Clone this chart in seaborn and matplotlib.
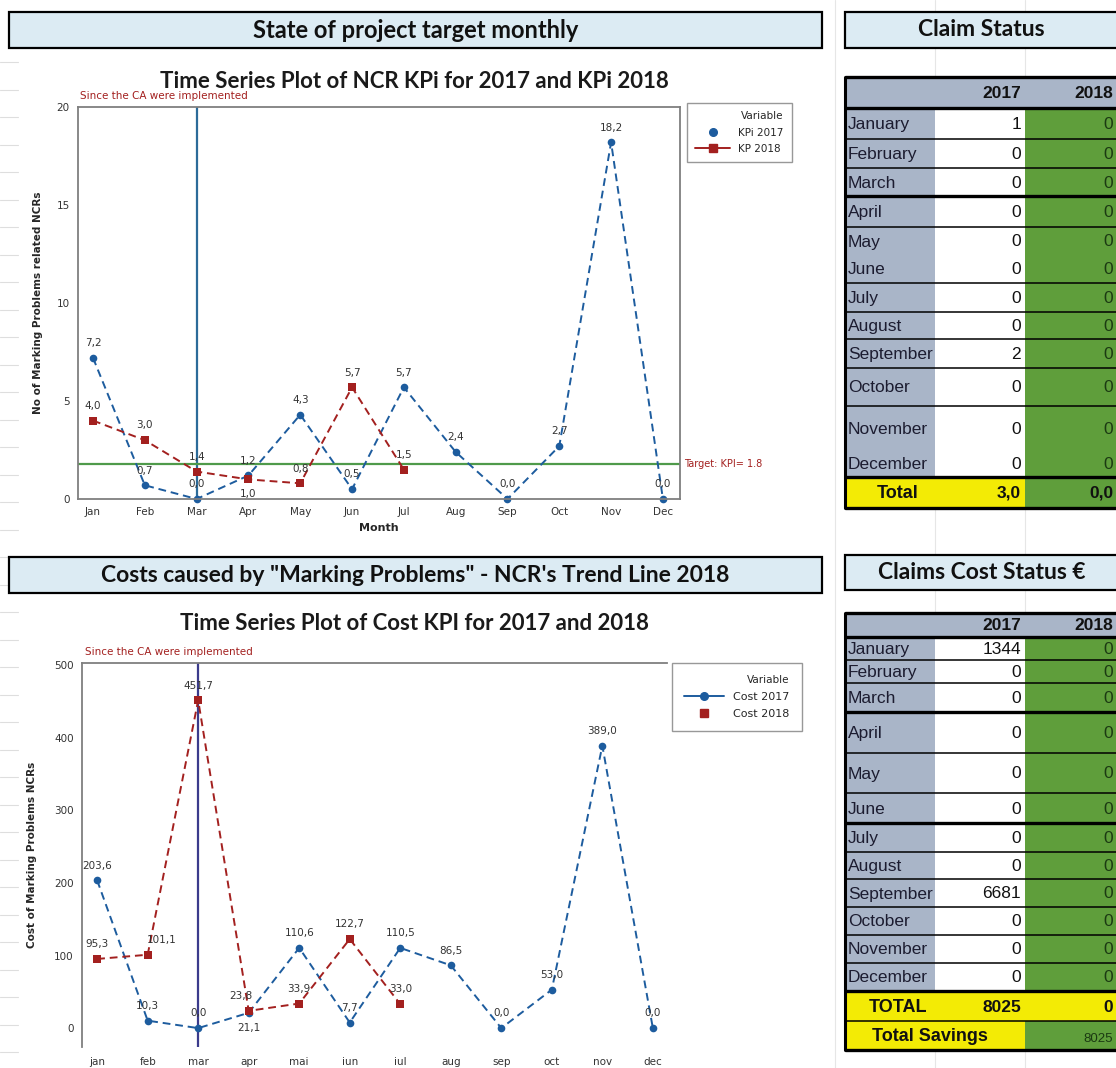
import numpy as np
import pandas as pd
import matplotlib
matplotlib.use("Agg")
import matplotlib.pyplot as plt
import matplotlib.transforms as mtrans
import seaborn as sns
from matplotlib.lines import Line2D
from matplotlib.patches import Rectangle

# ---------------- data ----------------
months_kpi = ["Jan", "Feb", "Mar", "Apr", "May", "Jun", "Jul", "Aug", "Sep", "Oct", "Nov", "Dec"]
months_cost = ["jan", "feb", "mar", "apr", "mai", "iun", "iul", "aug", "sep", "oct", "nov", "dec"]
kpi_2017 = [7.2, 0.7, 0.0, 1.2, 4.3, 0.5, 5.7, 2.4, 0.0, 2.7, 18.2, 0.0]
kpi_2018 = [4.0, 3.0, 1.4, 1.0, 0.8, 5.7, 1.5]
kpi_target = 1.8
cost_2017 = [203.6, 10.3, 0.0, 21.1, 110.6, 7.7, 110.5, 86.5, 0.0, 53.0, 389.0, 0.0]
cost_2018 = [95.3, 101.1, 451.7, 23.8, 33.9, 122.7, 33.0]
kpi_yticks = [0, 5, 10, 15, 20]
cost_yticks = [0, 100, 200, 300, 400, 500]

table_months = ["January", "February", "March", "April", "May", "June", "July",
                "August", "September", "October", "November", "December"]
claims_2017 = [1, 0, 0, 0, 0, 0, 0, 0, 2, 0, 0, 0]
claims_2018 = [0, 0, 0, 0, 0, 0, 0, 0, 0, 0, 0, 0]
claims_total = ["3,0", "0,0"]
claimcost_2017 = [1344, 0, 0, 0, 0, 0, 0, 0, 6681, 0, 0, 0]
claimcost_2018 = [0, 0, 0, 0, 0, 0, 0, 0, 0, 0, 0, 0]
claimcost_total = ["8025", "0"]
claimcost_savings = "8025"

# ---------------- style ----------------
sns.set_style("white")
plt.rcParams["font.family"] = ["DejaVu Sans"]

W, H = 1116, 1068
fig = plt.figure(figsize=(W / 100, H / 100), dpi=100)
fig.patch.set_facecolor("white")

BLUE = "#1d5c9e"
RED = "#a3201f"
GRAY = "#7f7f7f"
HDR_FILL = "#dcebf3"
TBL_BLUE = "#a9b5c8"
TBL_GREEN = "#5f9e3b"
TBL_YELLOW = "#f3eb05"
HEAD_FONT = ["Lato", "DejaVu Sans"]
TBL_FONT = ["Liberation Sans", "DejaVu Sans"]


def px(x0, y0, x1, y1):
    return [x0 / W, 1 - y1 / H, (x1 - x0) / W, (y1 - y0) / H]


# background axes in pixel units (layout only)
bg = fig.add_axes([0, 0, 1, 1])
bg.set_xlim(0, W)
bg.set_ylim(H, 0)
bg.axis("off")

# faint spreadsheet grid
for xg in [835, 935, 1025]:
    bg.plot([xg, xg], [0, H], color="#e6e6e6", lw=0.8, zorder=0)
for yg in np.arange(62, 1060, 27.5):
    bg.plot([0, 18], [yg, yg], color="#dedede", lw=0.8, zorder=0)


def header_box(x0, y0, x1, y1, text, size):
    bg.add_patch(Rectangle((x0, y0), x1 - x0, y1 - y0, facecolor=HDR_FILL,
                           edgecolor="black", lw=1.6, zorder=2))
    bg.text((x0 + x1) / 2, (y0 + y1) / 2, text, ha="center", va="center",
            fontsize=size, fontweight="bold", family=HEAD_FONT, color="#111111", zorder=3)


header_box(9, 12, 822, 48, "State of project target monthly", 17)
header_box(845, 12, 1118, 48, "Claim Status", 16.5)
header_box(9, 557, 822, 593, "Costs caused by \"Marking Problems\" - NCR's Trend Line 2018", 16.5)
header_box(845, 555, 1118, 590, "Claims Cost Status €", 16.5)


def fmt(v):
    return f"{v:.1f}".replace(".", ",")


def style_axes(ax, spines_visible):
    for name, sp in ax.spines.items():
        sp.set_visible(name in spines_visible)
        sp.set_color(GRAY)
        sp.set_linewidth(1.3)
    ax.tick_params(axis="both", direction="out", length=3, width=0.8, color=GRAY,
                   labelsize=7.5, labelcolor="#333333", pad=3)
    ax.set_facecolor("white")


# ---------------- chart 1: KPI ----------------
ax1 = fig.add_axes(px(78, 107, 680, 499))
df1 = pd.DataFrame({
    "month": list(range(len(kpi_2017))) + list(range(len(kpi_2018))),
    "value": kpi_2017 + kpi_2018,
    "Variable": ["KPi 2017"] * len(kpi_2017) + ["KP 2018"] * len(kpi_2018),
})
sns.lineplot(data=df1, x="month", y="value", hue="Variable", style="Variable",
             palette={"KPi 2017": BLUE, "KP 2018": RED},
             markers={"KPi 2017": "o", "KP 2018": "s"},
             dashes={"KPi 2017": (4, 2.5), "KP 2018": (4, 2.5)},
             estimator=None, sort=False, legend=False, ax=ax1,
             linewidth=1.4, markersize=5.5, markeredgewidth=0)
for ln in ax1.lines:
    ln.set_clip_on(False)
ax1.set_xlim(-0.29, 11.33)
ax1.set_ylim(0, 20)
ax1.set_xticks(range(12))
ax1.set_xticklabels(months_kpi)
ax1.set_yticks(kpi_yticks)
style_axes(ax1, ["left", "bottom", "top", "right"])
ax1.set_xlabel("Month", fontsize=8, fontweight="bold", labelpad=4)
ax1.set_ylabel("No of Marking Problems related NCRs", fontsize=7.5, fontweight="bold", labelpad=10)
ax1.axvline(2, color="#2c6b99", lw=1.6, zorder=1)
ax1.axhline(kpi_target, color="#4f9a4a", lw=1.6, zorder=1)
tr = mtrans.blended_transform_factory(ax1.transAxes, ax1.transData)
ax1.text(1.006, kpi_target, f"Target: KPI= {kpi_target:.1f}", transform=tr, color=RED,
         fontsize=7, va="center", ha="left", clip_on=False)
for i, v in enumerate(kpi_2017):
    ax1.annotate(fmt(v), (i, v), xytext=(0, 7), textcoords="offset points",
                 ha="center", va="bottom", fontsize=7.5, color="#333333")
for i, v in enumerate(kpi_2018):
    below = (i == 3)
    ax1.annotate(fmt(v), (i, v), xytext=(0, -7 if below else 7), textcoords="offset points",
                 ha="center", va="top" if below else "bottom", fontsize=7.5, color="#333333")
fig.text(414 / W, 1 - 82 / H, "Time Series Plot of NCR KPi for 2017 and KPi 2018",
         ha="center", va="center", fontsize=16, fontweight="bold", family=HEAD_FONT,
         color="#1a1a1a")
fig.text(80 / W, 1 - 96 / H, "Since the CA were implemented", ha="left", va="center",
         fontsize=7.5, color=RED)
h1 = [Line2D([], [], color=BLUE, marker="o", linestyle="none", markersize=5.5),
      Line2D([], [], color=RED, marker="s", lw=1.4, markersize=5.5)]
leg1 = ax1.legend(h1, ["KPi 2017", "KP 2018"], title="Variable", loc="upper left",
                  bbox_to_anchor=(687 / W, 1 - 103 / H), bbox_transform=fig.transFigure,
                  frameon=True, fancybox=False, edgecolor=GRAY, fontsize=7.5, title_fontsize=7.5,
                  handlelength=3.3, borderaxespad=0, borderpad=0.8, labelspacing=0.6,
                  alignment="right")
leg1.get_frame().set_linewidth(1.0)

# ---------------- chart 2: Cost ----------------
ax2 = fig.add_axes(px(82, 663, 667, 1047))
df2 = pd.DataFrame({
    "month": list(range(len(cost_2017))) + list(range(len(cost_2018))),
    "value": cost_2017 + cost_2018,
    "Variable": ["Cost 2017"] * len(cost_2017) + ["Cost 2018"] * len(cost_2018),
})
sns.lineplot(data=df2, x="month", y="value", hue="Variable", style="Variable",
             palette={"Cost 2017": BLUE, "Cost 2018": RED},
             markers={"Cost 2017": "o", "Cost 2018": "s"},
             dashes={"Cost 2017": (4, 2.5), "Cost 2018": (4, 2.5)},
             estimator=None, sort=False, legend=False, ax=ax2,
             linewidth=1.4, markersize=5.5, markeredgewidth=0)
for ln in ax2.lines:
    ln.set_clip_on(False)
ax2.set_xlim(-0.30, 11.28)
ax2.set_ylim(-26, 503)
ax2.set_xticks(range(12))
ax2.set_xticklabels(months_cost)
ax2.set_yticks(cost_yticks)
style_axes(ax2, ["left", "top"])
ax2.tick_params(axis="x", length=4)
ax2.set_xlabel("")
ax2.set_ylabel("Cost of Marking Problems NCRs", fontsize=7.5, fontweight="bold", labelpad=12)
ax2.axvline(2, color="#3b3b8c", lw=1.6, zorder=1)
for i, v in enumerate(cost_2017):
    below = (i == 3)
    ax2.annotate(fmt(v), (i, v), xytext=(0, -7 if below else 7), textcoords="offset points",
                 ha="center", va="top" if below else "bottom", fontsize=7.5, color="#333333")
for i, v in enumerate(cost_2018):
    dx = 10 if i == 1 else (-6 if i == 3 else 0)
    ax2.annotate(fmt(v), (i, v), xytext=(dx, 7), textcoords="offset points",
                 ha="center", va="bottom", fontsize=7.5, color="#333333")
fig.text(415 / W, 1 - 624 / H, "Time Series Plot of Cost KPI for 2017 and 2018",
         ha="center", va="center", fontsize=16, fontweight="bold", family=HEAD_FONT,
         color="#1a1a1a")
fig.text(85 / W, 1 - 652 / H, "Since the CA were implemented", ha="left", va="center",
         fontsize=7.5, color=RED)
h2 = [Line2D([], [], color=BLUE, marker="o", lw=1.4, markersize=5.5),
      Line2D([], [], color=RED, marker="s", linestyle="none", markersize=5.5)]
leg2 = ax2.legend(h2, ["Cost 2017", "Cost 2018"], title="Variable", loc="upper left",
                  bbox_to_anchor=(672 / W, 1 - 663 / H), bbox_transform=fig.transFigure,
                  frameon=True, fancybox=False, edgecolor=GRAY, fontsize=8, title_fontsize=7.5,
                  handlelength=3.6, borderaxespad=0, borderpad=1.1, labelspacing=0.6,
                  alignment="right")
leg2.get_frame().set_linewidth(1.0)


# ---------------- tables ----------------
def draw_table(xc, yb, months, v17, v18, thick, noline, total_label, total_vals,
               total_all_yellow, savings=None):
    n = len(yb) - 1
    fs = 12.5
    for r in range(n):
        y0, y1 = yb[r], yb[r + 1]
        hgt = y1 - y0
        if r == 0:
            fills = [TBL_BLUE, TBL_BLUE, TBL_BLUE]
        elif r <= len(months):
            fills = [TBL_BLUE, "white", TBL_GREEN]
        elif r == len(months) + 1:
            fills = [TBL_YELLOW, TBL_YELLOW, TBL_YELLOW if total_all_yellow else TBL_GREEN]
        else:
            fills = [TBL_YELLOW, TBL_YELLOW, TBL_GREEN]
        for c in range(3):
            bg.add_patch(Rectangle((xc[c], y0), xc[c + 1] - xc[c], hgt, facecolor=fills[c],
                                   edgecolor="none", zorder=2))
        ym = (y0 + y1) / 2
        if r == 0:
            bg.text(xc[2] - 4, ym + 1, "2017", ha="right", va="center", fontsize=fs,
                    fontweight="bold", family=TBL_FONT, color="#111111", zorder=4)
            bg.text(xc[3] - 3, ym + 1, "2018", ha="right", va="center", fontsize=fs,
                    fontweight="bold", family=TBL_FONT, color="#111111", zorder=4)
        elif r <= len(months):
            k = r - 1
            cell = Rectangle((xc[0], y0), xc[1] - xc[0], hgt, transform=bg.transData)
            t = bg.text(xc[0] + 3, ym + 1, months[k], ha="left", va="center", fontsize=fs,
                        family=TBL_FONT, color="#1c1c30", zorder=4)
            t.set_clip_path(cell)
            bg.text(xc[2] - 4, ym + 1, f"{v17[k]}", ha="right", va="center", fontsize=fs,
                    family=TBL_FONT, color="#111111", zorder=4)
            bg.text(xc[3] - 3, ym + 1, f"{v18[k]}", ha="right", va="center", fontsize=fs,
                    family=TBL_FONT, color="#1b3a12", zorder=4)
        elif r == len(months) + 1:
            bg.text((xc[0] + xc[1]) / 2 + 8, ym + 1, total_label, ha="center", va="center",
                    fontsize=fs + 0.5, fontweight="bold", family=TBL_FONT, color="#111111", zorder=4)
            bg.text(xc[2] - 4, ym + 1, total_vals[0], ha="right", va="center", fontsize=fs,
                    fontweight="bold", family=TBL_FONT, color="#111111", zorder=4)
            bg.text(xc[3] - 3, ym + 1, total_vals[1], ha="right", va="center", fontsize=fs,
                    fontweight="bold", family=TBL_FONT, color="#111111", zorder=4)
        else:
            bg.text((xc[0] + xc[2]) / 2 - 5, ym + 1, savings[0], ha="center", va="center",
                    fontsize=fs + 0.5, fontweight="bold", family=TBL_FONT, color="#111111", zorder=4)
            bg.text(xc[3] - 3, ym + 4, savings[1], ha="right", va="center", fontsize=fs - 3,
                    family=TBL_FONT, color="#1b3a12", zorder=4)
    for i, yv in enumerate(yb):
        if i in noline:
            continue
        lw = 2.4 if i in thick else 1.1
        bg.plot([xc[0], xc[3] + 2], [yv, yv], color="black", lw=lw, zorder=5,
                solid_capstyle="butt")
    bg.plot([xc[0], xc[0]], [yb[0], yb[-1]], color="black", lw=2.2, zorder=5)


draw_table([845, 935, 1025, 1116],
           [77, 108, 139, 168, 196, 227, 255, 283, 312, 339, 368, 406, 450, 477, 508],
           table_months, claims_2017, claims_2018,
           thick={0, 1, 4, 13, 14}, noline={6, 12},
           total_label="Total", total_vals=claims_total, total_all_yellow=False)

draw_table([845, 935, 1025, 1116],
           [613, 637, 660, 683, 712, 753, 793, 823, 852, 879, 907, 935, 963, 991, 1021, 1050],
           table_months, claimcost_2017, claimcost_2018,
           thick={0, 1, 4, 7, 13, 15}, noline=set(),
           total_label="TOTAL", total_vals=claimcost_total, total_all_yellow=True,
           savings=("Total Savings", claimcost_savings))

fig.savefig("out.png", dpi=100, facecolor="white")
